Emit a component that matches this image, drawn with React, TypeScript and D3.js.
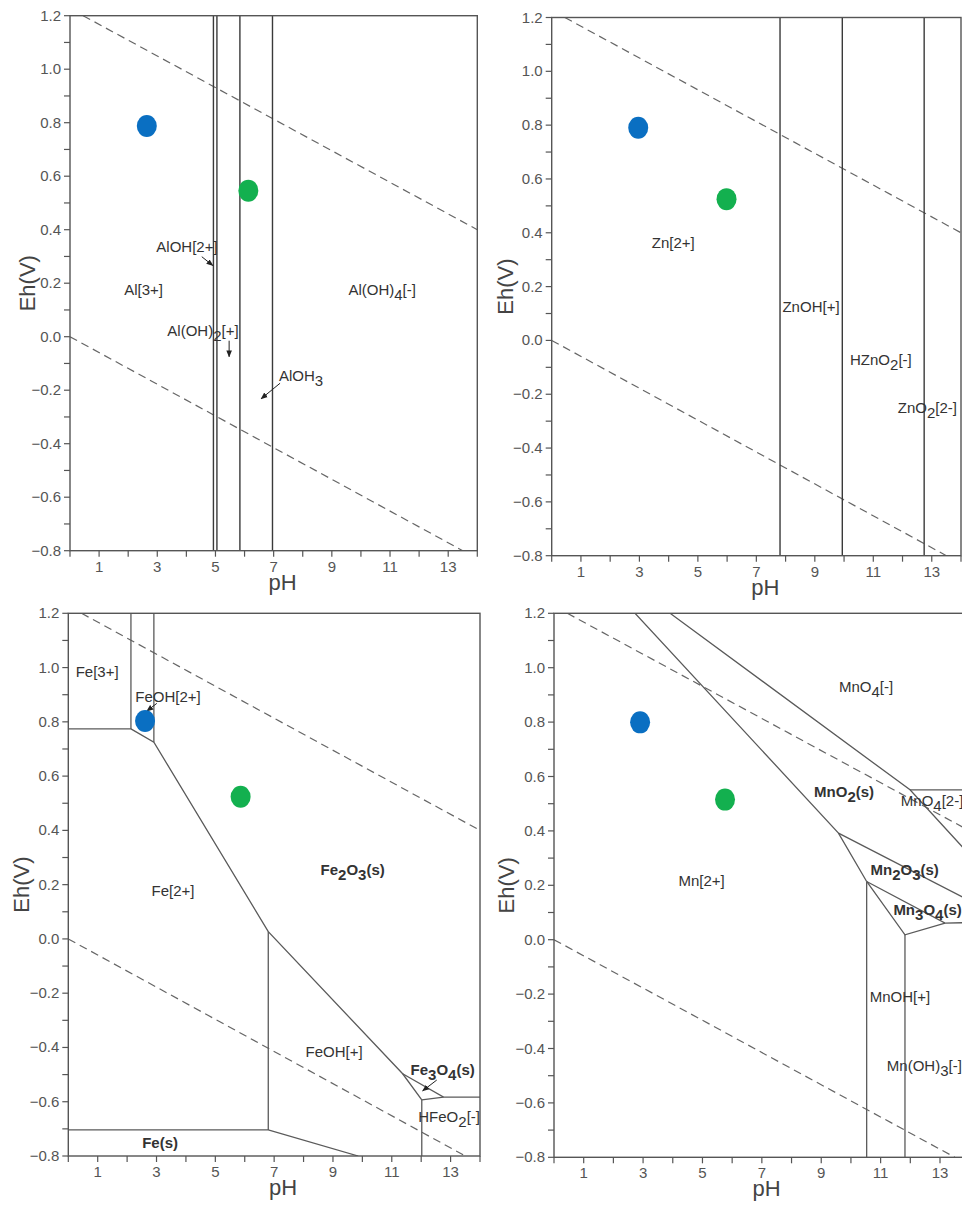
import React from 'react';
import * as d3 from 'd3';

type Pt = [number, number];

// ---------- shared axis data ----------
const PH_TICKS = d3.range(0, 15);
const PH_LABELS = [1, 3, 5, 7, 9, 11, 13];
const EH_MAJOR = [-0.8, -0.6, -0.4, -0.2, 0.0, 0.2, 0.4, 0.6, 0.8, 1.0, 1.2];
const EH_MINOR = [-0.7, -0.5, -0.3, -0.1, 0.1, 0.3, 0.5, 0.7, 0.9, 1.1];

// water stability lines (pH, Eh)
const WATER_UPPER: Pt[] = [[0.45, 1.2], [14, 0.4]];
const WATER_LOWER: Pt[] = [[0, 0], [13.5, -0.8]];

// ---------- Al ----------
const AL_VERTICALS = [4.93, 5.05, 5.84, 6.96];
const AL_SAMPLES: Pt[] = [[2.64, 0.788], [6.13, 0.546]];
const AL_LABELS = [
  { t: 'AlOH[2+]', p: [4.02, 0.335] as Pt },
  { t: 'Al[3+]', p: [2.53, 0.175] as Pt },
  { t: 'Al(OH)_4[-]', p: [10.73, 0.175] as Pt },
  { t: 'Al(OH)_2[+]', p: [4.57, 0.021] as Pt },
  { t: 'AlOH_3', p: [7.94, -0.147] as Pt },
];
const AL_ARROWS: Pt[][] = [
  [[4.53, 0.299], [4.91, 0.266]],
  [[5.47, -0.015], [5.47, -0.075]],
  [[7.22, -0.174], [6.57, -0.232]],
];

// ---------- Zn ----------
const ZN_VERTICALS = [7.81, 9.94, 12.74];
const ZN_SAMPLES: Pt[] = [[2.96, 0.79], [5.98, 0.525]];
const ZN_LABELS = [
  { t: 'Zn[2+]', p: [4.16, 0.361] as Pt },
  { t: 'ZnOH[+]', p: [8.87, 0.126] as Pt },
  { t: 'HZnO_2[-]', p: [11.26, -0.072] as Pt },
  { t: 'ZnO_2[2-]', p: [12.85, -0.25] as Pt },
];

// ---------- Fe ----------
const FE_LINES: Pt[][] = [
  [[0, 0.774], [2.13, 0.774]],
  [[2.13, 1.2], [2.13, 0.774]],
  [[2.91, 1.2], [2.91, 0.725]],
  [[2.13, 0.774], [2.91, 0.725], [6.8, 0.027], [11.37, -0.497], [12.02, -0.593]],
  [[6.8, 0.027], [6.8, -0.704]],
  [[0, -0.704], [6.8, -0.704], [9.86, -0.8]],
  [[11.37, -0.497], [12.76, -0.583], [14, -0.583]],
  [[12.02, -0.593], [12.76, -0.583]],
  [[12.02, -0.593], [12.02, -0.8]],
];
const FE_SAMPLES: Pt[] = [[2.61, 0.803], [5.86, 0.524]];
const FE_LABELS = [
  { t: 'Fe[3+]', p: [0.98, 0.985] as Pt },
  { t: 'FeOH[2+]', p: [3.39, 0.893] as Pt },
  { t: 'Fe[2+]', p: [3.56, 0.177] as Pt },
  { t: 'Fe_2O_3(s)', p: [9.67, 0.254] as Pt, bold: true },
  { t: 'FeOH[+]', p: [9.04, -0.415] as Pt },
  { t: 'Fe_3O_4(s)', p: [12.73, -0.483] as Pt, bold: true },
  { t: 'HFeO_2[-]', p: [12.95, -0.655] as Pt },
  { t: 'Fe(s)', p: [3.12, -0.753] as Pt, bold: true },
];
const FE_ARROWS: Pt[][] = [
  [[3.01, 0.868], [2.67, 0.84]],
  [[12.53, -0.52], [12.05, -0.56]],
];

// ---------- Mn ----------
const MN_LINES: Pt[][] = [
  [[2.73, 1.2], [9.58, 0.392], [10.53, 0.214]],
  [[3.91, 1.2], [11.99, 0.551], [14, 0.312]],
  [[11.99, 0.551], [14, 0.551]],
  [[9.58, 0.392], [14, 0.143]],
  [[10.53, 0.214], [13.17, 0.061], [14, 0.063]],
  [[10.53, 0.214], [10.53, -0.8]],
  [[10.53, 0.214], [11.82, 0.018], [13.17, 0.061]],
  [[11.82, 0.018], [11.82, -0.8]],
];
const MN_SAMPLES: Pt[] = [[2.9, 0.799], [5.76, 0.515]];
const MN_LABELS = [
  { t: 'MnO_4[-]', p: [10.51, 0.929] as Pt },
  { t: 'MnO_2(s)', p: [9.77, 0.543] as Pt, bold: true },
  { t: 'MnO_4[2-]', p: [11.68, 0.511] as Pt, anchor: 'start' },
  { t: 'Mn_2O_3(s)', p: [11.81, 0.257] as Pt, bold: true },
  { t: 'Mn_3O_4(s)', p: [11.43, 0.11] as Pt, bold: true, anchor: 'start' },
  { t: 'Mn[2+]', p: [4.97, 0.214] as Pt },
  { t: 'MnOH[+]', p: [11.65, -0.211] as Pt },
  { t: 'Mn(OH)_3[-]', p: [11.21, -0.463] as Pt, anchor: 'start' },
];

const SAMPLE_COLORS = ['#0a6fc2', '#13b04f'];
const FONT = '"Liberation Sans", Arial, sans-serif';

type Label = { t: string; p: Pt; bold?: boolean; anchor?: string };

type PanelCfg = {
  id: string;
  box: { left: number; right: number; top: number; bottom: number };
  verticals?: number[];
  lines?: Pt[][];
  samples: Pt[];
  labels: Label[];
  arrows?: Pt[][];
  lineColor: string;
  lineWidth: number;
  yLabelOffset: number;
};

const PANELS: PanelCfg[] = [
  { id: 'al', box: { left: 70, right: 477.3, top: 15.7, bottom: 550.7 }, verticals: AL_VERTICALS, samples: AL_SAMPLES, labels: AL_LABELS, arrows: AL_ARROWS, lineColor: '#3a3a3a', lineWidth: 1.4, yLabelOffset: 43 },
  { id: 'zn', box: { left: 551.7, right: 961, top: 17.5, bottom: 555.7 }, verticals: ZN_VERTICALS, samples: ZN_SAMPLES, labels: ZN_LABELS, lineColor: '#3a3a3a', lineWidth: 1.4, yLabelOffset: 46 },
  { id: 'fe', box: { left: 68.3, right: 480, top: 613.3, bottom: 1156 }, lines: FE_LINES, samples: FE_SAMPLES, labels: FE_LABELS, arrows: FE_ARROWS, lineColor: '#5a5a5a', lineWidth: 1.3, yLabelOffset: 47 },
  { id: 'mn', box: { left: 554, right: 969.7, top: 613.3, bottom: 1157.3 }, lines: MN_LINES, samples: MN_SAMPLES, labels: MN_LABELS, lineColor: '#5a5a5a', lineWidth: 1.3, yLabelOffset: 48 },
];

function RichText({ label, x, y }: { label: Label; x: number; y: number }) {
  const parts = label.t.split(/_(\d)/);
  const nodes: React.ReactNode[] = [];
  let shifted = false;
  parts.forEach((s, i) => {
    if (s === '') return;
    const isSub = i % 2 === 1;
    let dy = 0;
    if (isSub && !shifted) { dy = 5; shifted = true; }
    else if (!isSub && shifted) { dy = -5; shifted = false; }
    nodes.push(<tspan key={i} dy={dy || undefined}>{s}</tspan>);
  });
  return (
    <text x={x} y={y} textAnchor={label.anchor || 'middle'} fontSize={15}
      fontWeight={label.bold ? 'bold' : 'normal'} fill="#333" fontFamily={FONT}>
      {nodes}
    </text>
  );
}

function Panel({ cfg }: { cfg: PanelCfg }) {
  const { box } = cfg;
  const x = d3.scaleLinear().domain([0, 14]).range([box.left, box.right]);
  const y = d3.scaleLinear().domain([-0.8, 1.2]).range([box.bottom, box.top]);
  const line = d3.line<Pt>().x(d => x(d[0])).y(d => y(d[1]));
  const clipId = `clip-${cfg.id}`;
  const axisColor = '#555';
  return (
    <g>
      <defs>
        <clipPath id={clipId}>
          <rect x={box.left} y={box.top} width={box.right - box.left} height={box.bottom - box.top} />
        </clipPath>
      </defs>
      <g clipPath={`url(#${clipId})`}>
        <path d={line(WATER_UPPER) || ''} fill="none" stroke="#666" strokeWidth={1.2} strokeDasharray="8 5" />
        <path d={line(WATER_LOWER) || ''} fill="none" stroke="#666" strokeWidth={1.2} strokeDasharray="8 5" />
        {(cfg.verticals || []).map((v, i) => (
          <line key={i} x1={x(v)} x2={x(v)} y1={y(1.2)} y2={y(-0.8)} stroke={cfg.lineColor} strokeWidth={cfg.lineWidth} />
        ))}
        {(cfg.lines || []).map((l, i) => (
          <path key={i} d={line(l) || ''} fill="none" stroke={cfg.lineColor} strokeWidth={cfg.lineWidth} />
        ))}
      </g>
      {/* frame */}
      <rect x={box.left} y={box.top} width={box.right - box.left} height={box.bottom - box.top}
        fill="none" stroke={axisColor} strokeWidth={1.4} />
      {/* y ticks */}
      {EH_MAJOR.concat(EH_MINOR).map((v, i) => (
        <line key={`yt${i}`} x1={box.left - 6} x2={box.left} y1={y(v)} y2={y(v)} stroke={axisColor} strokeWidth={1.2} />
      ))}
      {EH_MAJOR.map((v, i) => (
        <text key={`yl${i}`} x={box.left - 9} y={y(v) + 5} textAnchor="end" fontSize={15} fill="#555" fontFamily={FONT}>
          {d3.format('.1f')(v)}
        </text>
      ))}
      {/* x ticks */}
      {PH_TICKS.map((v, i) => (
        <line key={`xt${i}`} x1={x(v)} x2={x(v)} y1={box.bottom} y2={box.bottom + 6} stroke={axisColor} strokeWidth={1.2} />
      ))}
      {PH_LABELS.map((v, i) => (
        <text key={`xl${i}`} x={x(v)} y={box.bottom + 21} textAnchor="middle" fontSize={15} fill="#555" fontFamily={FONT}>
          {v}
        </text>
      ))}
      <text x={(box.left + Math.min(box.right, 961)) / 2 + 9} y={box.bottom + 39} textAnchor="middle" fontSize={22} fill="#444" fontFamily={FONT}>pH</text>
      <text transform={`translate(${box.left - cfg.yLabelOffset},${(box.top + box.bottom) / 2}) rotate(-90)`} dy="0.35em"
        textAnchor="middle" fontSize={22} fill="#444" fontFamily={FONT}>Eh(V)</text>
      {/* labels */}
      {cfg.labels.map((l, i) => (
        <RichText key={`lb${i}`} label={l} x={x(l.p[0])} y={y(l.p[1]) + 5} />
      ))}
      {(cfg.arrows || []).map((a, i) => (
        <line key={`ar${i}`} x1={x(a[0][0])} y1={y(a[0][1])} x2={x(a[1][0])} y2={y(a[1][1])}
          stroke="#222" strokeWidth={1} markerEnd="url(#arrowhead)" />
      ))}
      {/* samples */}
      {cfg.samples.map((s, i) => (
        <ellipse key={`s${i}`} cx={x(s[0])} cy={y(s[1])} rx={10} ry={11} fill={SAMPLE_COLORS[i]} />
      ))}
    </g>
  );
}

export default function App() {
  return (
    <svg width={962} height={1205} style={{ position: 'absolute', left: 0, top: 0, background: '#fff' }}>
      <defs>
        <marker id="arrowhead" viewBox="0 0 10 10" refX="9" refY="5" markerWidth="7" markerHeight="7" orient="auto-start-reverse" markerUnits="userSpaceOnUse">
          <path d="M0,1 L10,5 L0,9 z" fill="#222" />
        </marker>
      </defs>
      <rect x={0} y={0} width={962} height={1205} fill="#fff" />
      {PANELS.map(p => <Panel key={p.id} cfg={p} />)}
    </svg>
  );
}
